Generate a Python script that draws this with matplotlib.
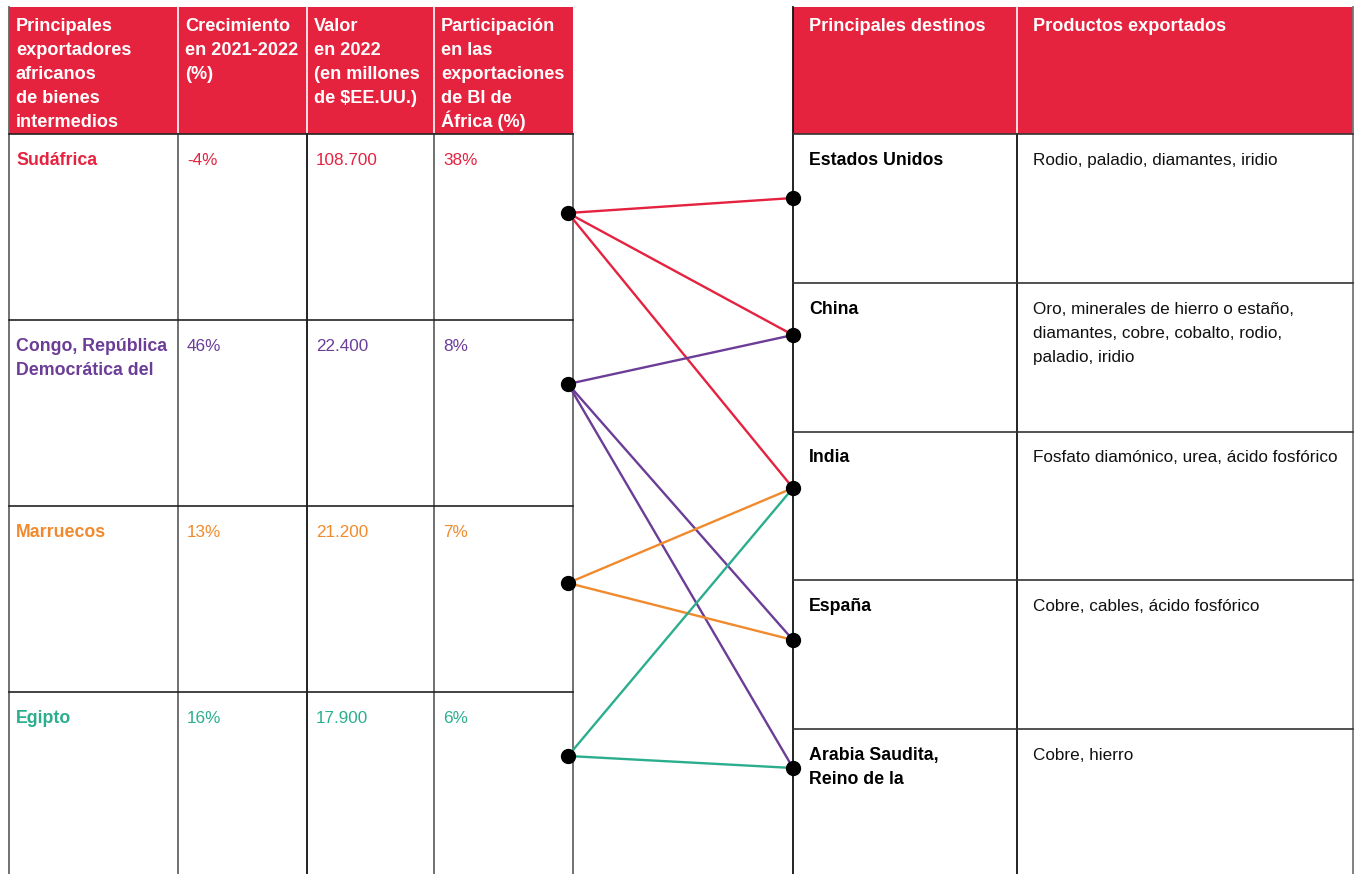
import matplotlib.pyplot as plt

# datos de la tabla izquierda (exportadores)
exportadores = ['Sudáfrica', 'Congo, República\nDemocrática del', 'Marruecos', 'Egipto']
crecimiento = ['-4%', '46%', '13%', '16%']
valor = ['108.700', '22.400', '21.200', '17.900']
participacion = ['38%', '8%', '7%', '6%']
colores = ['#E5223F', '#6B3D97', '#F08A2C', '#2BAE8E']

# datos de la tabla derecha (destinos)
destinos = ['Estados Unidos', 'China', 'India', 'España', 'Arabia Saudita,\nReino de la']
productos = ['Rodio, paladio, diamantes, iridio',
             'Oro, minerales de hierro o estaño,\ndiamantes, cobre, cobalto, rodio,\npaladio, iridio',
             'Fosfato diamónico, urea, ácido fosfórico',
             'Cobre, cables, ácido fosfórico',
             'Cobre, hierro']

# conexiones exportador -> destino
enlaces = [(0, 0), (0, 1), (0, 2), (1, 1), (1, 3), (1, 4), (2, 2), (2, 3), (3, 2), (3, 4)]

enc_izq = ['Principales\nexportadores\nafricanos\nde bienes\nintermedios',
           'Crecimiento\nen 2021-2022\n(%)',
           'Valor\nen 2022\n(en millones\nde $EE.UU.)',
           'Participación\nen las\nexportaciones\nde BI de\nÁfrica (%)']
enc_der = ['Principales destinos', 'Productos exportados']

ROJO = '#E6233F'
FONT = 'Liberation Sans'
H_SIZE = 13.1
B_SIZE = 12.3
PASO = 24  # interlineado en px


def texto(ax, x, y, s, **kw):
    # cada linea en su propia linea base, separadas PASO px
    for k, linea in enumerate(s.split('\n')):
        ax.text(x, y + k * PASO, linea, va='baseline', ha='left', family=FONT, **kw)


fig = plt.figure(figsize=(13.56, 8.74), dpi=100)
ax = fig.add_axes([0, 0, 1, 1])
ax.set_xlim(0, 1356)
ax.set_ylim(874, 0)
ax.axis('off')

# --- tabla izquierda ---
cols_l = [9, 178, 307, 434, 573]
top, head_bot = 7, 134
row_h = 186
ax.add_patch(plt.Rectangle((cols_l[0], top), cols_l[-1] - cols_l[0], head_bot - top,
                           color=ROJO, lw=0, zorder=1))
for i, t in enumerate(enc_izq):
    texto(ax, cols_l[i] + 7, 31, t, color='white', fontsize=H_SIZE, fontweight='bold', zorder=3)
for x in cols_l[1:-1]:
    ax.plot([x, x], [top, head_bot], color='white', lw=1.2, zorder=2)
for x in cols_l:
    c = '#111111' if x == 307 else '#666666'
    ax.plot([x, x], [head_bot, 874], color=c, lw=1.3, zorder=2)
ax.plot([cols_l[0], cols_l[0]], [top, head_bot], color='#666666', lw=1.3, zorder=2)
for i in range(len(exportadores) + 1):
    y = head_bot + i * row_h
    ax.plot([cols_l[0], cols_l[-1]], [y, y], color='#222222', lw=1.2, zorder=2)
for i, nombre in enumerate(exportadores):
    y = head_bot + i * row_h + 31
    texto(ax, cols_l[0] + 7, y, nombre, color=colores[i], fontsize=B_SIZE + 0.5, fontweight='bold')
    for j, v in enumerate([crecimiento[i], valor[i], participacion[i]]):
        texto(ax, cols_l[j + 1] + 9, y, v, color=colores[i], fontsize=B_SIZE)

# --- tabla derecha ---
cols_r = [793, 1017, 1353]
row_h_r = 148.75
ax.add_patch(plt.Rectangle((cols_r[0], top), cols_r[-1] - cols_r[0], head_bot - top,
                           color=ROJO, lw=0, zorder=1))
ax.plot([cols_r[1], cols_r[1]], [top, head_bot], color='white', lw=1.2, zorder=2)
for i, t in enumerate(enc_der):
    texto(ax, cols_r[i] + 16, 31, t, color='white', fontsize=H_SIZE, fontweight='bold', zorder=3)
for x in cols_r:
    c = '#777777' if x == 1353 else '#111111'
    ax.plot([x, x], [top if x != 1017 else head_bot, 874], color=c, lw=1.3, zorder=2)
for i in range(len(destinos)):
    y = head_bot + i * row_h_r
    ax.plot([cols_r[0], cols_r[-1]], [y, y], color='#333333', lw=1.2, zorder=2)
    texto(ax, cols_r[0] + 16, y + 31, destinos[i], color='black', fontsize=B_SIZE + 0.5,
          fontweight='bold')
    texto(ax, cols_r[1] + 16, y + 31, productos[i], color='#111111', fontsize=B_SIZE)

# --- conexiones ---
x_izq, x_der = 568, 793
y_izq = [213, 384, 583, 756]
y_der = [198, 335, 488, 640, 768]
for a, b in enlaces:
    ax.plot([x_izq, x_der], [y_izq[a], y_der[b]], color=colores[a], lw=1.7, zorder=4,
            solid_capstyle='round')
ax.plot([x_izq] * len(y_izq), y_izq, 'o', color='black', ms=10, zorder=5, ls='none')
ax.plot([x_der] * len(y_der), y_der, 'o', color='black', ms=10, zorder=5, ls='none')

plt.savefig('out.png', dpi=100)
plt.close()
